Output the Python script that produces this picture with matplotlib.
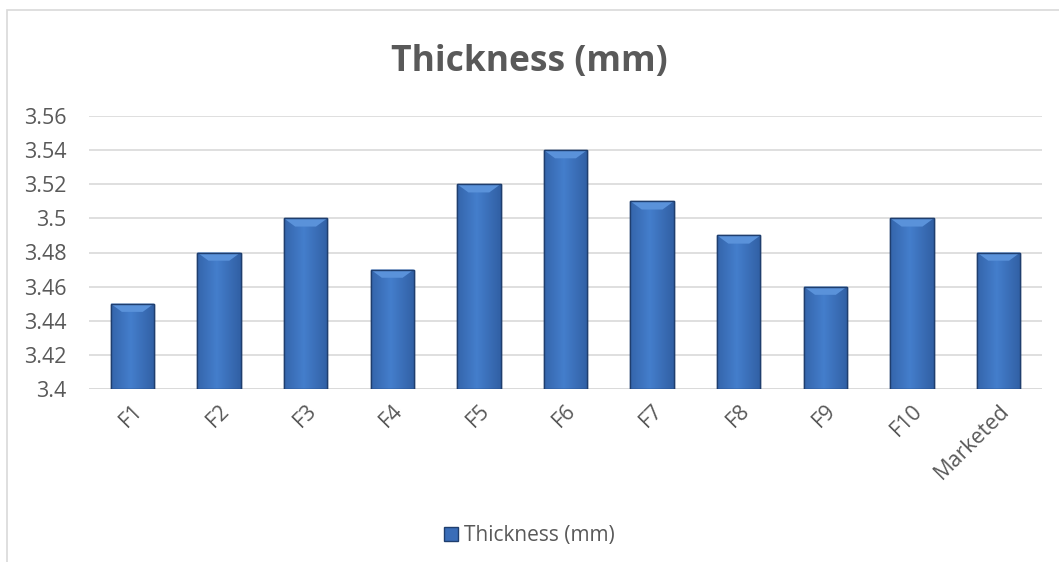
import matplotlib
matplotlib.use("Agg")
import matplotlib.pyplot as plt
import numpy as np
from matplotlib.patches import Rectangle

categories = ["F1", "F2", "F3", "F4", "F5", "F6", "F7", "F8", "F9", "F10", "Marketed"]
thickness = [3.45, 3.48, 3.50, 3.47, 3.52, 3.54, 3.51, 3.49, 3.46, 3.50, 3.48]
yticks = [3.40, 3.42, 3.44, 3.46, 3.48, 3.50, 3.52, 3.54, 3.56]
ytick_labels = ["3.4", "3.42", "3.44", "3.46", "3.48", "3.5", "3.52", "3.54", "3.56"]

plt.rcParams['font.family'] = ['Open Sans', 'DejaVu Sans']
text_color = "#595959"

fig = plt.figure(figsize=(10.59, 5.62), dpi=100)
ax = fig.add_axes([89/1059, 1-389/562, (1042-89)/1059, (389-116)/562])

# chart border (partially cropped in reference)
fig.patches.append(Rectangle((7/1059, -0.1), 1.2, 1-10/562+0.1, transform=fig.transFigure,
                             fill=False, edgecolor="#D9D9D9", linewidth=1.2))

x = np.arange(len(categories))
bars = ax.bar(x, [v - 3.4 for v in thickness], bottom=3.4, width=0.5,
              color="#3A6DB8", edgecolor="#1F3E6E", linewidth=1.0, zorder=3,
              label="Thickness (mm)")

# bevel-like gradient fill
grad = np.linspace(0, 1, 64)
prof = 1 - 0.55 * np.abs(grad - 0.45) * 2
img = np.zeros((1, 64, 3))
dark = np.array([0x25, 0x4C, 0x8A]) / 255
light = np.array([0x44, 0x7E, 0xCC]) / 255
for i in range(64):
    img[0, i] = dark + (light - dark) * prof[i]
for b in bars:
    x0, y0, w, h = b.get_x(), b.get_y(), b.get_width(), b.get_height()
    im = ax.imshow(img, extent=[x0, x0 + w, y0, y0 + h], aspect='auto', zorder=3.5,
                   interpolation='bilinear')
    im.set_clip_path(b)
    # top highlight bevel
    tb = 0.0048
    ax.fill([x0, x0 + w, x0 + w - 0.13, x0 + 0.13],
            [y0 + h, y0 + h, y0 + h - tb, y0 + h - tb],
            color="#5A92DA", zorder=3.6, linewidth=0)
    ax.add_patch(Rectangle((x0, y0), w, h, fill=False, edgecolor="#1F3E6E",
                           linewidth=1.0, zorder=3.7))

ax.set_xlim(-0.5, len(categories) - 0.5)
ax.set_ylim(3.4, 3.56)
ax.set_yticks(yticks)
ax.set_yticklabels(ytick_labels)
ax.set_xticks(x)
ax.set_xticklabels(categories, rotation=45, ha='right', va='top', rotation_mode='anchor')
ax.tick_params(axis='both', length=0, labelsize=15.5, colors=text_color)
ax.tick_params(axis='y', pad=16)
ax.tick_params(axis='x', pad=8)
ax.grid(axis='y', color="#D9D9D9", linewidth=1.2, zorder=0)
for s in ax.spines.values():
    s.set_visible(False)
ax.axhline(3.4, color="#D9D9D9", linewidth=1.2, zorder=1)

fig.text(0.5, 1 - 62/562, "Thickness (mm)", ha='center', va='center',
         fontsize=25.5, fontweight='bold', color=text_color)

leg = fig.legend(handles=[bars], labels=["Thickness (mm)"], loc='center',
                 bbox_to_anchor=(0.5, 1 - 536/562), frameon=False, fontsize=15,
                 handlelength=0.65, handleheight=0.65, handletextpad=0.3)
for t in leg.get_texts():
    t.set_color(text_color)

fig.savefig("out.png", dpi=100)
